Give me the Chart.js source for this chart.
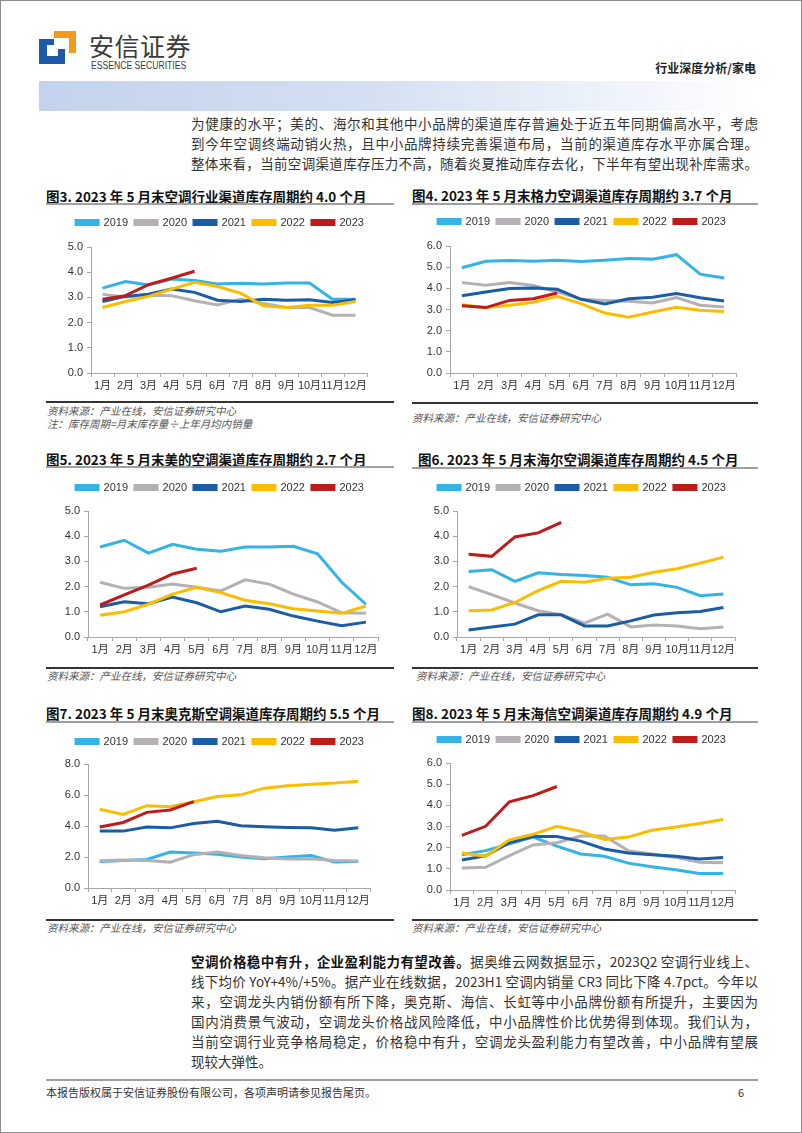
<!DOCTYPE html>
<html>
<head>
<meta charset="utf-8">
<script src="https://cdn.jsdelivr.net/npm/chart.js@4.4.0/dist/chart.umd.min.js"></script>
<style>
  body { margin: 0; background: #fff; }
  #page { position: relative; width: 800px; height: 1131px; border: 1px solid #8c8c8c; overflow: hidden;
          font-family: "Noto Sans CJK SC", sans-serif; color: #222; }
  .a { position: absolute; }
  .line { position: absolute; left: 190px; width: 567px; font-size: 13.5px; line-height: 20px; height: 20px;
          white-space: nowrap; text-align: justify; text-align-last: justify; color: #333; }
  .title { position: absolute; font-size: 13.5px; font-weight: bold; line-height: 18px; white-space: nowrap; color: #111; }
  .rule { position: absolute; height: 2px; background: #a0a0a0; }
  .dark { position: absolute; height: 1.5px; background: #333; }
  .src { position: absolute; font-size: 10.5px; font-style: italic; color: #555; line-height: 14px; white-space: nowrap; }
  canvas { position: absolute; }
</style>
</head>
<body>
<div id="page">
  <!-- header -->
  <div class="a" style="left:53px;top:30px;width:22px;height:7px;background:#f39a1e"></div>
  <div class="a" style="left:68px;top:30px;width:7px;height:22px;background:#f39a1e"></div>
  <div class="a" style="left:38px;top:38px;width:8px;height:25px;background:#1c5aa8"></div>
  <div class="a" style="left:38px;top:38px;width:15px;height:6px;background:#1c5aa8"></div>
  <div class="a" style="left:38px;top:55px;width:26px;height:8px;background:#1c5aa8"></div>
  <div class="a" style="left:57px;top:48px;width:7px;height:15px;background:#1c5aa8"></div>
  <div class="a" style="left:88px;top:28px;font-size:25px;line-height:32px;color:#3a3a3a;letter-spacing:0.5px">安信证券</div>
  <div class="a" style="left:90px;top:58px;font-family:'Liberation Sans',sans-serif;font-size:10.5px;line-height:12px;color:#3a3a3a;transform:scaleX(0.82);transform-origin:0 0">ESSENCE SECURITIES</div>
  <div class="a" style="right:45px;top:59px;font-size:12px;font-weight:bold;line-height:16px;color:#222">行业深度分析/家电</div>
  <div class="a" style="left:38px;top:80px;width:722px;height:30px;background:linear-gradient(to right,#c3d3ed 0%,#d3dff2 45%,#ffffff 100%)"></div>

  <div class="line" style="top:112px">为健康的水平；美的、海尔和其他中小品牌的渠道库存普遍处于近五年同期偏高水平，考虑</div>
  <div class="line" style="top:132px">到今年空调终端动销火热，且中小品牌持续完善渠道布局，当前的渠道库存水平亦属合理。</div>
  <div class="line" style="top:152px">整体来看，当前空调渠道库存压力不高，随着炎夏推动库存去化，下半年有望出现补库需求。</div>

  <!-- row 1 -->
  <div class="title" style="left:45px;top:186px">图3. 2023 年 5 月末空调行业渠道库存周期约 4.0 个月</div>
  <div class="rule" style="left:45px;top:202px;width:348px"></div>
  <div class="title" style="left:411px;top:185px">图4. 2023 年 5 月末格力空调渠道库存周期约 3.7 个月</div>
  <div class="rule" style="left:411px;top:202px;width:346px"></div>
  <canvas id="c1" width="348" height="189" style="left:45px;top:207px"></canvas>
  <canvas id="c2" width="352" height="190" style="left:405px;top:206px"></canvas>
  <div class="dark" style="left:45px;top:400px;width:348px"></div>
  <div class="src" style="left:46px;top:403px">资料来源：产业在线，安信证券研究中心</div>
  <div class="src" style="left:46px;top:416px">注：库存周期=月末库存量÷上年月均内销量</div>
  <div class="dark" style="left:411px;top:401px;width:346px"></div>
  <div class="src" style="left:411px;top:410px">资料来源：产业在线，安信证券研究中心</div>

  <!-- row 2 -->
  <div class="title" style="left:45px;top:449px">图5. 2023 年 5 月末美的空调渠道库存周期约 2.7 个月</div>
  <div class="rule" style="left:45px;top:465px;width:348px"></div>
  <div class="title" style="left:417px;top:449px">图6. 2023 年 5 月末海尔空调渠道库存周期约 4.5 个月</div>
  <div class="rule" style="left:411px;top:466px;width:346px"></div>
  <canvas id="c3" width="348" height="188" style="left:45px;top:472px"></canvas>
  <canvas id="c4" width="352" height="188" style="left:405px;top:472px"></canvas>
  <div class="dark" style="left:45px;top:666px;width:348px"></div>
  <div class="src" style="left:46px;top:668px">资料来源：产业在线，安信证券研究中心</div>
  <div class="dark" style="left:411px;top:666px;width:346px"></div>
  <div class="src" style="left:415px;top:668px">资料来源：产业在线，安信证券研究中心</div>

  <!-- row 3 -->
  <div class="title" style="left:45px;top:703px">图7. 2023 年 5 月末奥克斯空调渠道库存周期约 5.5 个月</div>
  <div class="rule" style="left:45px;top:720px;width:348px"></div>
  <div class="title" style="left:411px;top:703px">图8. 2023 年 5 月末海信空调渠道库存周期约 4.9 个月</div>
  <div class="rule" style="left:411px;top:720px;width:346px"></div>
  <canvas id="c5" width="348" height="185" style="left:45px;top:726px"></canvas>
  <canvas id="c6" width="352" height="189" style="left:405px;top:724px"></canvas>
  <div class="dark" style="left:45px;top:918px;width:348px"></div>
  <div class="src" style="left:46px;top:920px">资料来源：产业在线，安信证券研究中心</div>
  <div class="dark" style="left:411px;top:918px;width:346px"></div>
  <div class="src" style="left:411px;top:920px">资料来源：产业在线，安信证券研究中心</div>

  <!-- bottom text -->
  <div class="line" style="top:950px"><b style="color:#111">空调价格稳中有升，企业盈利能力有望改善。</b>据奥维云网数据显示，2023Q2 空调行业线上、</div>
  <div class="line" style="top:970px">线下均价 YoY+4%/+5%。据产业在线数据，2023H1 空调内销量 CR3 同比下降 4.7pct。今年以</div>
  <div class="line" style="top:990px">来，空调龙头内销份额有所下降，奥克斯、海信、长虹等中小品牌份额有所提升，主要因为</div>
  <div class="line" style="top:1010px">国内消费景气波动，空调龙头价格战风险降低，中小品牌性价比优势得到体现。我们认为，</div>
  <div class="line" style="top:1030px">当前空调行业竞争格局稳定，价格稳中有升，空调龙头盈利能力有望改善，中小品牌有望展</div>
  <div class="line" style="top:1050px;text-align-last:left">现较大弹性。</div>

  <div class="a" style="left:45px;top:1078px;width:712px;height:2px;background:#a0a0a0"></div>
  <div class="a" style="left:45px;top:1083px;font-size:11px;line-height:16px;color:#333">本报告版权属于安信证券股份有限公司，各项声明请参见报告尾页。</div>
  <div class="a" style="left:737px;top:1083px;font-size:11px;line-height:16px;color:#333">6</div>
</div>

<script>
var months = ['1月', '2月', '3月', '4月', '5月', '6月', '7月', '8月', '9月', '10月', '11月', '12月'];
var years = ['2019', '2020', '2021', '2022', '2023'];
var colors = ['#33b3e6', '#b4b0b4', '#1a5da6', '#fbbd00', '#be1b1b'];

// 图3 行业
var industry = [
  [3.37, 3.63, 3.49, 3.73, 3.67, 3.53, 3.56, 3.53, 3.57, 3.57, 2.93, 2.93],
  [3.12, 3.02, 3.09, 3.07, 2.87, 2.70, 2.93, 2.76, 2.60, 2.60, 2.29, 2.29],
  [2.84, 3.04, 3.13, 3.33, 3.20, 2.89, 2.84, 2.93, 2.89, 2.91, 2.80, 2.91],
  [2.60, 2.84, 3.04, 3.33, 3.60, 3.43, 3.17, 2.67, 2.60, 2.69, 2.69, 2.84],
  [2.93, 3.07, 3.51, 3.76, 4.04]
];
// 图4 格力
var gree = [
  [4.97, 5.28, 5.32, 5.28, 5.33, 5.27, 5.33, 5.41, 5.38, 5.59, 4.67, 4.49],
  [4.27, 4.15, 4.27, 4.13, 3.83, 3.48, 3.43, 3.39, 3.31, 3.56, 3.20, 3.12],
  [3.65, 3.83, 3.99, 4.02, 3.96, 3.48, 3.26, 3.51, 3.58, 3.75, 3.56, 3.40],
  [3.23, 3.09, 3.20, 3.34, 3.62, 3.28, 2.83, 2.64, 2.88, 3.10, 2.96, 2.91],
  [3.18, 3.09, 3.43, 3.51, 3.78]
];
// 图5 美的
var midea = [
  [3.57, 3.84, 3.33, 3.68, 3.48, 3.40, 3.57, 3.57, 3.60, 3.30, 2.17, 1.30],
  [2.17, 1.93, 1.97, 2.10, 1.97, 1.83, 2.27, 2.10, 1.70, 1.39, 0.96, 0.94],
  [1.20, 1.40, 1.32, 1.59, 1.36, 1.00, 1.23, 1.10, 0.83, 0.63, 0.45, 0.59],
  [0.86, 1.00, 1.30, 1.70, 1.97, 1.76, 1.46, 1.32, 1.12, 1.03, 0.94, 1.23],
  [1.27, 1.67, 2.06, 2.50, 2.73]
];
// 图6 海尔
var haier = [
  [2.60, 2.67, 2.21, 2.55, 2.48, 2.44, 2.37, 2.07, 2.11, 1.97, 1.64, 1.71],
  [2.00, 1.68, 1.35, 1.04, 0.88, 0.55, 0.91, 0.40, 0.48, 0.44, 0.33, 0.40],
  [0.28, 0.40, 0.51, 0.88, 0.88, 0.44, 0.44, 0.64, 0.87, 0.96, 1.01, 1.17],
  [1.04, 1.07, 1.37, 1.84, 2.21, 2.17, 2.33, 2.37, 2.57, 2.71, 2.93, 3.17],
  [3.28, 3.20, 3.97, 4.13, 4.55]
];
// 图7 奥克斯
var aux = [
  [1.71, 1.77, 1.84, 2.32, 2.26, 2.17, 2.00, 1.89, 2.00, 2.10, 1.67, 1.71],
  [1.76, 1.80, 1.78, 1.67, 2.15, 2.32, 2.10, 1.95, 1.87, 1.89, 1.78, 1.74],
  [3.67, 3.67, 3.93, 3.88, 4.16, 4.30, 4.01, 3.95, 3.90, 3.88, 3.73, 3.88],
  [5.08, 4.75, 5.31, 5.25, 5.57, 5.90, 6.01, 6.44, 6.59, 6.70, 6.77, 6.88],
  [3.93, 4.23, 4.88, 5.03, 5.57]
];
// 图8 海信
var hisense = [
  [1.67, 1.86, 2.18, 2.50, 2.07, 1.70, 1.59, 1.27, 1.10, 0.96, 0.78, 0.78],
  [1.04, 1.07, 1.62, 2.13, 2.23, 2.55, 2.55, 1.86, 1.70, 1.54, 1.31, 1.29],
  [1.42, 1.62, 2.23, 2.53, 2.53, 2.31, 1.94, 1.75, 1.66, 1.59, 1.46, 1.54],
  [1.75, 1.59, 2.37, 2.63, 3.01, 2.77, 2.39, 2.50, 2.82, 2.98, 3.14, 3.33],
  [2.58, 3.01, 4.17, 4.46, 4.89]
];

var FONT = '"Liberation Sans", "Noto Sans CJK SC", sans-serif';
var axisColor = '#a6a6a6';

function makeChart(id, series, yMax, yStep, yWidth, padRight, gap) {
  return new Chart(document.getElementById(id), {
    type: 'line',
    data: {
      labels: months,
      datasets: series.map(function (vals, i) {
        return {
          label: years[i],
          data: vals,
          borderColor: colors[i],
          backgroundColor: colors[i],
          borderWidth: 3,
          pointRadius: 0,
          tension: 0,
          order: 4 - i
        };
      })
    },
    options: {
      responsive: false,
      animation: false,
      layout: { padding: { top: 2, right: 0, left: 0, bottom: 0 } },
      plugins: {
        legend: {
          labels: {
            boxWidth: 22, boxHeight: 4, padding: 7, color: '#333',
            font: { size: 11, family: FONT },
            sort: function (a, b) { return a.datasetIndex - b.datasetIndex; }
          }
        },
        tooltip: { enabled: false }
      },
      scales: {
        x: {
          offset: true,
          grid: { offset: true, drawOnChartArea: false, tickLength: 4, color: axisColor },
          border: { color: axisColor },
          ticks: { color: '#333', font: { size: 11, family: FONT }, padding: 2, maxRotation: 0, autoSkip: false },
          afterFit: function (s) { s.height = 24; }
        },
        y: {
          min: 0, max: yMax,
          grid: { drawOnChartArea: false, tickLength: 4, color: axisColor },
          border: { color: axisColor },
          ticks: {
            stepSize: yStep, color: '#333', padding: 4,
            font: { size: 11, family: FONT },
            callback: function (v) { return v.toFixed(1); }
          },
          afterFit: function (s) { s.width = yWidth; }
        },
        // empty right-hand spacer so the legend stays centred on the full width
        side: {
          position: 'right',
          grid: { display: false },
          border: { display: false },
          ticks: { display: false },
          afterFit: function (s) { s.width = padRight; }
        }
      }
    },
    plugins: [{
      id: 'legendGap',
      beforeInit: function (chart) {
        var fit = chart.legend.fit;
        chart.legend.fit = function () {
          fit.call(this);
          this.height += gap;
        };
      }
    }]
  });
}

makeChart('c1', industry, 5, 1, 45, 27, 9);
makeChart('c2', gree, 6, 1, 44, 22, 9);
makeChart('c3', midea, 5, 1, 42, 16, 8);
makeChart('c4', haier, 5, 1, 51, 23, 8);
makeChart('c5', aux, 8, 2, 42, 24, 7);
makeChart('c6', hisense, 6, 1, 44, 23, 8);
</script>
</body>
</html>
